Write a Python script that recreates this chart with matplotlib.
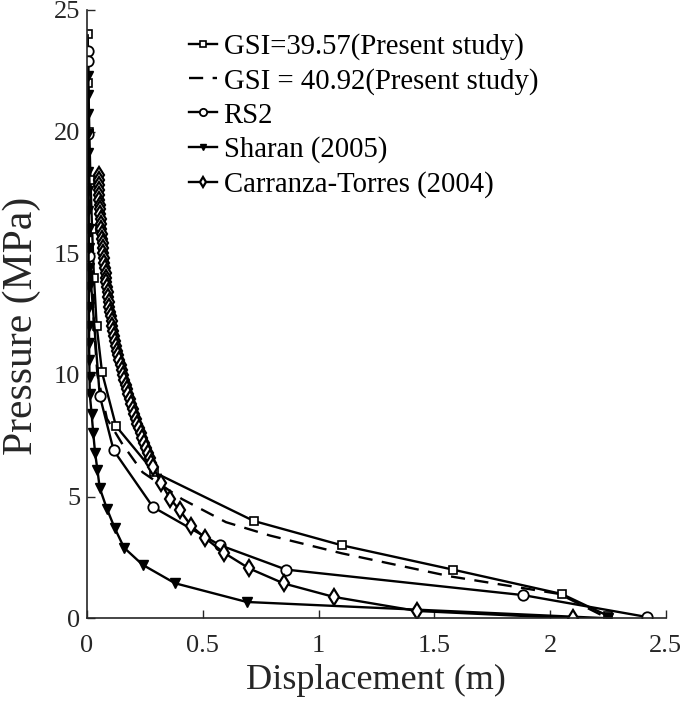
import matplotlib.pyplot as plt

plt.rcParams['font.family'] = ['Liberation Serif', 'DejaVu Serif']

# GSI = 39.57 (present study), solid line with squares
gsi1_u = [0.003, 0.006, 0.010, 0.015, 0.022, 0.030, 0.042, 0.065, 0.125, 0.29, 0.72, 1.10, 1.58, 2.05, 2.25]
gsi1_p = [24.0, 22.0, 20.0, 18.0, 16.0, 14.0, 12.0, 10.1, 7.9, 6.0, 4.0, 3.0, 2.0, 1.0, 0.1]

# GSI = 40.92 (present study), dashed line
gsi2_u = [0.003, 0.006, 0.015, 0.030, 0.045, 0.086, 0.15, 0.24, 0.41, 0.60, 0.79, 1.10, 1.57, 2.04, 2.25]
gsi2_p = [24.0, 20.0, 16.0, 12.0, 10.0, 8.2, 7.2, 6.0, 4.9, 3.95, 3.4, 2.67, 1.72, 1.0, 0.0]

# RS2
rs2_u = [0.003, 0.005, 0.006, 0.008, 0.055, 0.115, 0.285, 0.575, 0.86, 1.885, 2.42]
rs2_p = [23.3, 22.9, 19.9, 14.9, 9.15, 6.9, 4.57, 3.0, 2.0, 0.95, 0.05]

# Sharan (2005)
sharan_u = [0.004, 0.004, 0.005, 0.005, 0.005, 0.006, 0.006, 0.006, 0.007, 0.007, 0.007, 0.008,
            0.008, 0.009, 0.009, 0.010, 0.011, 0.012, 0.020, 0.027, 0.035, 0.045, 0.055, 0.086,
            0.12, 0.16, 0.24, 0.38, 0.69, 2.25]
sharan_p = [22.3, 21.5, 20.7, 19.9, 19.1, 18.35, 17.55, 16.75, 16.0, 15.2, 14.4, 13.6,
            12.8, 12.0, 11.3, 10.6, 9.9, 9.2, 8.4, 7.6, 6.8, 6.1, 5.35, 4.5,
            3.7, 2.9, 2.2, 1.44, 0.67, 0.0]

# Carranza-Torres (2004)
ct_u = [0.050, 0.051, 0.051, 0.052, 0.053, 0.054, 0.055, 0.056, 0.058, 0.059, 0.061, 0.062,
        0.064, 0.065, 0.067, 0.069, 0.070, 0.072, 0.074, 0.077, 0.080, 0.082, 0.084, 0.086,
        0.089, 0.092, 0.094, 0.097, 0.100, 0.103, 0.106, 0.109, 0.113, 0.117, 0.121, 0.125,
        0.130, 0.135, 0.140, 0.145, 0.150, 0.156, 0.161, 0.167, 0.173, 0.179, 0.185, 0.191,
        0.197, 0.204, 0.210, 0.217, 0.224, 0.232, 0.239, 0.246, 0.254, 0.262, 0.270, 0.278,
        0.287, 0.32, 0.36, 0.40, 0.45, 0.51, 0.59, 0.70, 0.85, 1.065, 1.425, 2.10]
ct_p = [18.2, 18.0, 17.8, 17.6, 17.4, 17.2, 17.0, 16.8, 16.6, 16.4, 16.2, 16.0,
        15.8, 15.6, 15.4, 15.2, 15.0, 14.8, 14.6, 14.4, 14.2, 14.0, 13.8, 13.6,
        13.4, 13.2, 13.0, 12.8, 12.6, 12.4, 12.2, 12.0, 11.8, 11.6, 11.4, 11.2,
        11.0, 10.8, 10.6, 10.4, 10.2, 10.0, 9.8, 9.6, 9.4, 9.2, 9.0, 8.8,
        8.6, 8.4, 8.2, 8.0, 7.8, 7.6, 7.4, 7.2, 7.0, 6.8, 6.6, 6.4,
        6.2, 5.55, 4.9, 4.45, 3.8, 3.3, 2.7, 2.05, 1.43, 0.88, 0.3, 0.0]

fig = plt.figure(figsize=(6.85, 7.01), dpi=100)
ax = fig.add_axes([0.127, 0.118, 0.845, 0.868])

lw = 1.7
ax.plot(gsi1_u, gsi1_p, '-', color='black', lw=lw, marker='s', ms=5.5, mfc='white', mew=1.2,
        label='GSI=39.57(Present study)')
ax.plot(gsi2_u, gsi2_p, '--', color='black', lw=lw, dashes=(6, 4),
        label='GSI = 40.92(Present study)')
ax.plot(rs2_u, rs2_p, '-', color='black', lw=lw, marker='o', ms=7.5, mfc='white', mew=1.3,
        label='RS2')
ax.plot(sharan_u, sharan_p, '-', color='black', lw=lw, marker='v', ms=7, mfc='black',
        label='Sharan (2005)')
ax.plot(ct_u, ct_p, '-', color='black', lw=lw, marker='d', ms=8, mfc='white', mew=1.6,
        label='Carranza-Torres (2004)')

ax.set_xlim(0, 2.5)
ax.set_ylim(0, 25)
ax.set_xticks([0, 0.5, 1, 1.5, 2, 2.5])
ax.set_xticklabels(['0', '0.5', '1', '1.5', '2', '2.5'])
ax.set_yticks([0, 5, 10, 15, 20, 25])
ax.spines['top'].set_visible(False)
ax.spines['right'].set_visible(False)
for s in ['left', 'bottom']:
    ax.spines[s].set_linewidth(1.2)
    ax.spines[s].set_color('#262626')
ax.tick_params(direction='in', length=6, width=1.0, labelsize=19, colors='#262626')
ax.tick_params(axis='x', pad=12)
ax.tick_params(axis='y', pad=5)

ax.set_xlabel('Displacement (m)', fontsize=26, color='#262626', labelpad=5)
ax.set_ylabel('Pressure (MPa)', fontsize=30, color='#262626')
ax.yaxis.set_label_coords(-0.08, 0.48)

leg = ax.legend(loc='upper left', bbox_to_anchor=(0.141, 0.995), frameon=False, fontsize=20.7,
                handlelength=0.97, handletextpad=0.24, labelspacing=0.27, markerscale=0.7,
                borderaxespad=0.3)

fig.savefig('out.png', dpi=100)
